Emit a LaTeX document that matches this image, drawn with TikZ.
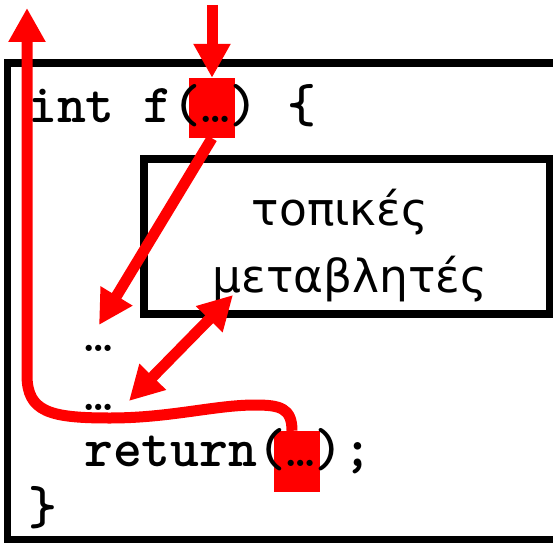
\documentclass[tikz,border=0pt]{standalone}
\usepackage{fontspec}
\newfontfamily\greekfont{DejaVu Sans}
\usetikzlibrary{arrows.meta}
\newcommand{\dotsmd}{{\mdseries …}}
\begin{document}
\begin{tikzpicture}[x=1pt,y=-1pt,
  frame/.style={draw=black,line width=7.5pt},
  redsq/.style={fill=red,draw=none,minimum width=46pt,minimum height=60pt,inner sep=0pt},
  code/.style={font=\ttfamily\bfseries\fontsize{55}{55}\selectfont,anchor=base west,inner sep=0pt},
  greek/.style={font=\greekfont\fontsize{45.5}{45.5}\selectfont,anchor=base,inner sep=0pt},
  flow/.style={draw=red,line width=11pt,-{Triangle[length=34pt,width=35pt]}},
  both/.style={draw=red,line width=11pt,{Triangle[length=34pt,width=35pt]}-{Triangle[length=34pt,width=35pt]}}
  ]
\useasboundingbox (0,0) rectangle (553,543);
% outer frame (function body)
\draw[frame] (7.5,63) rectangle (575,539.5);
% inner box
\node[frame,minimum width=406pt,minimum height=155pt,inner sep=0pt] (box) at (347,236.5) {};
\node[greek] (lbl1) at (340,225) {τοπικές};
\node[greek] (lbl2) at (350,292) {μεταβλητές};
% red squares
\node[redsq] (argin) at (212,108) {};
\node[redsq,minimum height=61pt] (ret) at (297,461.5) {};
% code
\node[code] (l1) at (28,122) {int f(\dotsmd) \{};
\node[code] (l2) at (84,351) {\dotsmd};
\node[code] (l3) at (84,410) {\dotsmd};
\node[code] (l4) at (84,466) {return(\dotsmd);};
\node[code] (l5) at (28,524) {\}};
% coordinates
\coordinate (callin) at (212,5);
\coordinate (d1tip) at (99,325);
\coordinate (dA) at (233,295);
\coordinate (dB) at (129,401);
\coordinate (exit) at (27,8);
% arrows
\draw[flow] (callin) -- (argin.north);
\draw[flow] (argin.south) -- (d1tip);
\draw[both] (dA) -- (dB);
\draw[flow] ([xshift=-5pt]ret.north) .. controls (292,408) and (280,405) .. (255,405)
  .. controls (215,405) and (170,418) .. (110,418)
  .. controls (50,418) and (27,412) .. (27,375) -- (exit);
\end{tikzpicture}
\end{document}
